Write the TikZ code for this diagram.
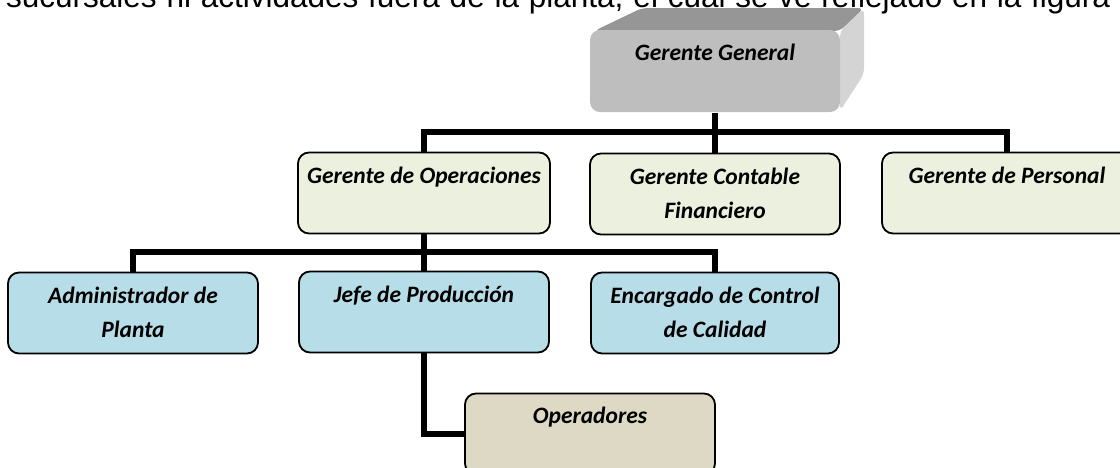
\documentclass[tikz,border=0pt]{standalone}
\usepackage{fontspec}
\setmainfont{Carlito}
\newfontfamily\bodyfont{Liberation Sans}
\usetikzlibrary{positioning,backgrounds}
\definecolor{ggfront}{RGB}{190,190,190}
\definecolor{ggtop}{RGB}{150,150,150}
\definecolor{ggside}{RGB}{212,212,212}
\definecolor{lvlgreen}{RGB}{235,241,222}
\definecolor{lvlblue}{RGB}{183,222,232}
\definecolor{lvltan}{RGB}{221,217,196}
\tikzset{
  orgbox/.style={draw=black, line width=1.8pt, rounded corners=11pt,
    minimum width=250pt, minimum height=81pt, inner sep=0pt},
  orgtext/.style={font=\bfseries\itshape\fontsize{23.5}{34}\selectfont,
    align=center, inner sep=0pt},
  wire/.style={line width=6.5pt, line join=miter},
}
\begin{document}
\begin{tikzpicture}[x=1pt,y=-1pt]
  \useasboundingbox (0,0) rectangle (1120,467);
  % cut-off line of the running text
  \node[anchor=base west, inner sep=0pt, font=\bodyfont\fontsize{31.5}{36}\selectfont] (intro) at (6,7)
    {\makebox[1104pt][s]{sucursales ni actividades fuera de la planta, el cual se ve reflejado en la figura}};

  % Gerente General, raised box
  \fill[ggtop, rounded corners=6pt] (594,31) -- (642,8) -- (864,8) -- (840,31) -- cycle;
  \fill[ggside, rounded corners=6pt] (840,31) -- (864,8) -- (864,74) -- (840,111) -- cycle;
  \node[orgbox, draw=none, fill=ggfront, rounded corners=10pt, minimum height=82pt] (gg) at (715,71) {};
  \node[orgtext, below=7pt of gg.north] (ggT) {\strut Gerente General};

  % second level
  \node[orgbox, fill=lvlgreen, minimum width=252pt] (ops) at (424,193) {};
  \node[orgtext, below=8pt of ops.north] (opsT) {\strut Gerente de Operaciones};
  \node[orgbox, fill=lvlgreen] (con) at (715,194) {};
  \node[orgtext, below=8pt of con.north] (conT) {\strut Gerente Contable\\ Financiero};
  \node[orgbox, fill=lvlgreen] (per) at (1007,193) {};
  \node[orgtext, below=8pt of per.north] (perT) {\strut Gerente de Personal};

  % third level
  \node[orgbox, fill=lvlblue] (adm) at (133,313) {};
  \node[orgtext, below=8pt of adm.north] (admT) {\strut Administrador de\\ Planta};
  \node[orgbox, fill=lvlblue] (jef) at (424,312) {};
  \node[orgtext, below=8pt of jef.north] (jefT) {\strut Jefe de Producción};
  \node[orgbox, fill=lvlblue, minimum width=248pt] (enc) at (715,313) {};
  \node[orgtext, below=8pt of enc.north] (encT) {\strut Encargado de Control\\ de Calidad};

  % fourth level
  \node[orgbox, fill=lvltan] (opr) at (590,434) {};
  \node[orgtext, below=7pt of opr.north] (oprT) {\strut Operadores};

  \coordinate (bar1) at (715,132);
  \coordinate (bar2) at (424,252);
  \begin{scope}[on background layer]
  \begin{scope}[wire]
    \draw (gg.south) -- (con.north);
    \draw (ops.north) |- (bar1) -| (per.north);
    \draw (ops.south) -- (jef.north);
    \draw (adm.north) |- (bar2) -| (enc.north);
    \draw (jef.south) |- (opr.west);
  \end{scope}
  \end{scope}
\end{tikzpicture}
\end{document}
